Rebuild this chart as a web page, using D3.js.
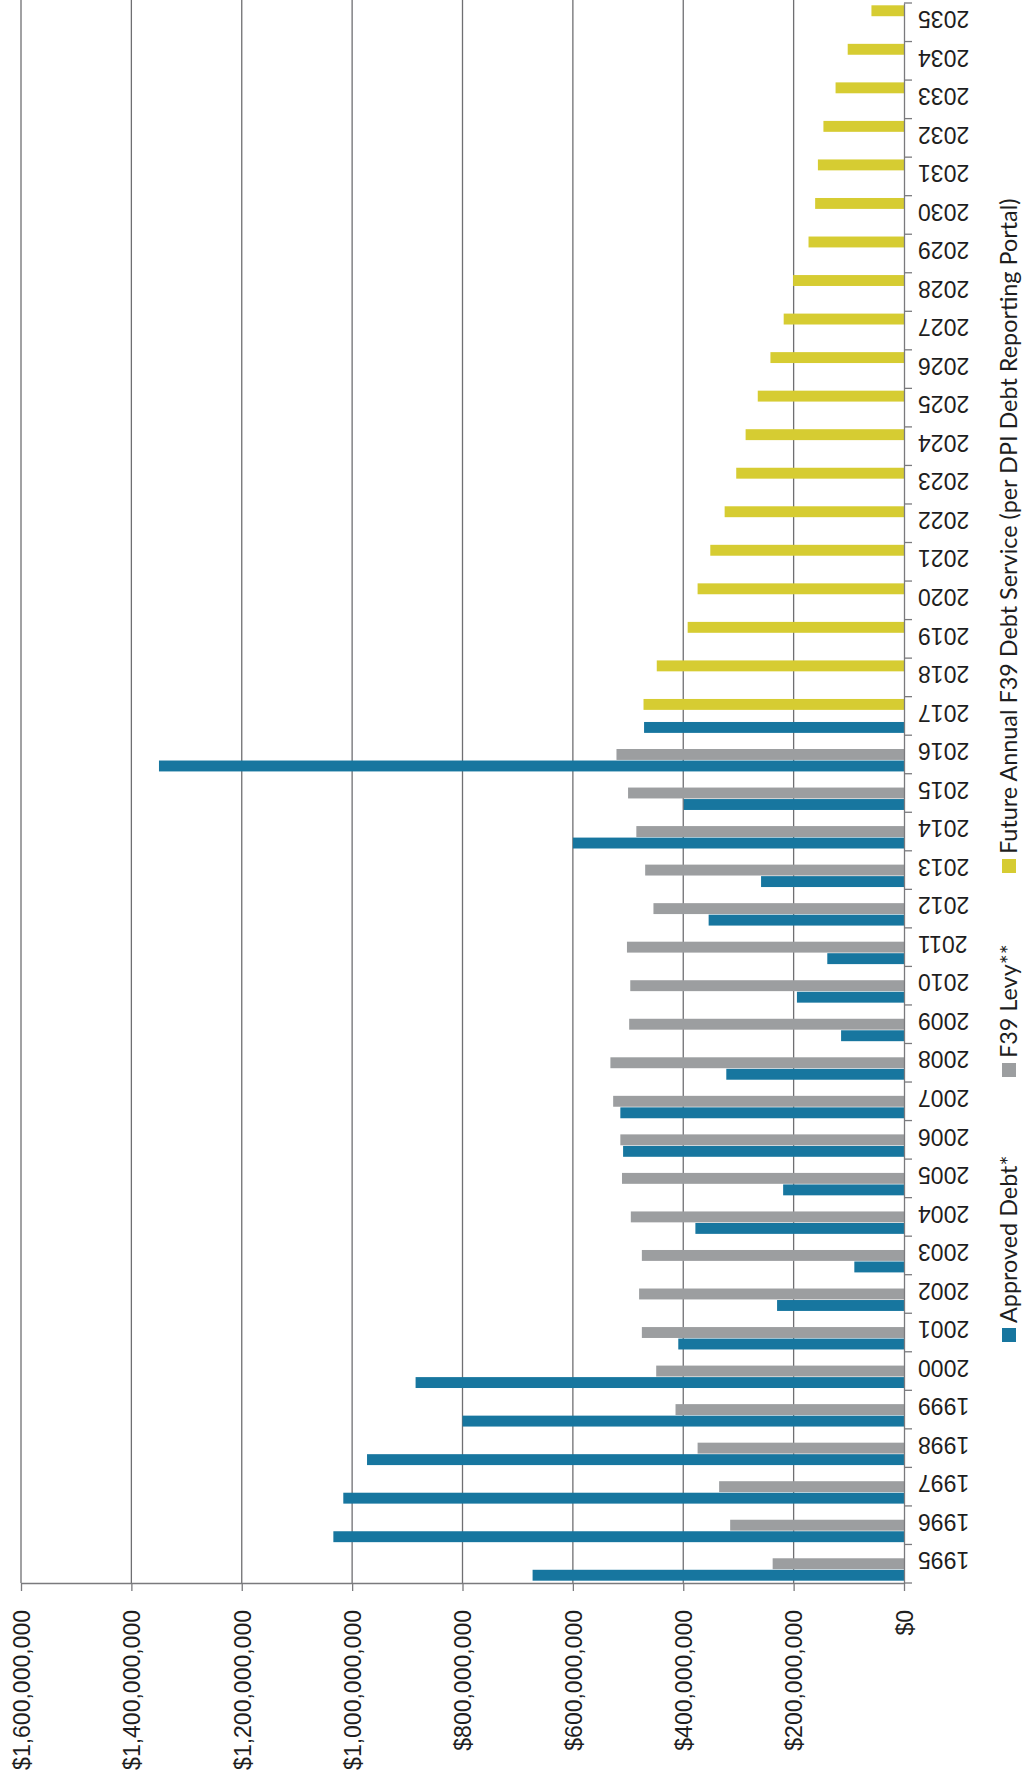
<!DOCTYPE html>
<html>
<head>
<meta charset="utf-8">
<script src="https://cdn.jsdelivr.net/npm/d3@7"></script>
<style>
  html, body { margin: 0; padding: 0; background: #fff; }
  svg { display: block; font-family: Lato, "Open Sans", sans-serif; }
</style>
</head>
<body>
<svg id="chart" width="1023" height="1790"></svg>
<script>
// Years on the category axis
const years = d3.range(1995, 2036);

// Values in millions of dollars
const approvedYears = d3.range(1995, 2018);
const approvedDebt = [673, 1034, 1016, 973, 800, 885, 409, 230, 90, 378, 219, 509,
                      514, 322, 114, 194, 139, 354, 259, 600, 399, 1350, 471];

const levyYears = d3.range(1995, 2017);
const f39Levy = [238, 315, 335, 374, 414, 449, 475, 480, 475, 495, 511, 514,
                 527, 532, 498, 496, 502, 454, 469, 485, 500, 521];

const futureYears = d3.range(2017, 2036);
const futureService = [472, 448, 392, 374, 351, 325, 304, 287, 265, 242, 218, 201,
                       173, 161, 156, 146, 124, 102, 59];

const valueTicks = [0, 200, 400, 600, 800, 1000, 1200, 1400, 1600];

const seriesNames = ["Approved Debt*", "F39 Levy**",
                     "Future Annual F39 Debt Service (per DPI Debt Reporting Portal)"];
const seriesKeys = ["approved", "levy", "future"];
const seriesColors = { approved: "#17769f", levy: "#9c9ea0", future: "#d6cc32" };

const series = [
  { key: "approved", years: approvedYears, values: approvedDebt },
  { key: "levy", years: levyYears, values: f39Levy },
  { key: "future", years: futureYears, values: futureService }
];

const svg = d3.select("#chart");

// The chart is laid on its side: values run right-to-left, years bottom-to-top.
const plot = { left: 21, right: 904, top: 3, bottom: 1583 };

const x = d3.scaleLinear().domain([0, 1600]).range([plot.right, plot.left]);
const y = d3.scaleBand().domain(years.slice().reverse()).range([plot.top, plot.bottom]);

const step = y.step();
const gap = step * 0.104;
const sub = d3.scaleBand().domain(["future", "levy", "approved"])
  .range([gap / 2, step - gap / 2]);

const fmtMoney = d => "$" + d3.format(",")(d * 1e6);

// Gridlines
svg.append("g").selectAll("line")
  .data(valueTicks.filter(d => d > 0))
  .join("line")
  .attr("x1", d => x(d)).attr("x2", d => x(d))
  .attr("y1", 0).attr("y2", plot.bottom)
  .attr("stroke", "#6f6f72").attr("stroke-width", 1.3);

// Bars
const bars = svg.append("g");
series.forEach(s => {
  bars.append("g").selectAll("rect")
    .data(s.years.map((yr, i) => ({ yr, v: s.values[i] })))
    .join("rect")
    .attr("x", d => x(d.v))
    .attr("width", d => x(0) - x(d.v))
    .attr("y", d => y(d.yr) + sub(s.key) + 0.3)
    .attr("height", sub.bandwidth() - 0.6)
    .attr("fill", seriesColors[s.key]);
});

// Value axis along the bottom
const xAxis = svg.append("g")
  .attr("transform", `translate(0,${plot.bottom})`)
  .call(d3.axisBottom(x).tickValues(valueTicks).tickSize(8).tickSizeOuter(0).tickFormat(fmtMoney));
xAxis.select(".domain").attr("stroke", "#7a7a7d").attr("stroke-width", 1.3);
xAxis.selectAll(".tick line").attr("stroke", "#7a7a7d").attr("stroke-width", 1.3);
xAxis.selectAll(".tick text")
  .attr("transform", "rotate(-90)")
  .attr("x", -27).attr("y", 0).attr("dy", "0.36em")
  .attr("text-anchor", "end")
  .attr("fill", "#1e1e1e")
  .style("font-size", "23px");

// Category axis on the right, at $0
const yAxis = svg.append("g")
  .attr("transform", `translate(${plot.right},0)`)
  .call(d3.axisRight(y).tickSize(0).tickSizeOuter(0));
yAxis.select(".domain").attr("stroke", "#7a7a7d").attr("stroke-width", 1.3);
yAxis.selectAll(".tick text")
  .attr("x", 0)
  .attr("transform", "translate(14,-3) rotate(180)")
  .attr("dy", "0.36em")
  .attr("text-anchor", "end")
  .attr("fill", "#1e1e1e")
  .style("font-size", "23px");

// Tick marks between categories
yAxis.append("g").selectAll("line")
  .data(years.concat([years[0] - 1]))
  .join("line")
  .attr("x1", 0).attr("x2", 8)
  .attr("y1", d => d < years[0] ? plot.bottom : y(d))
  .attr("y2", d => d < years[0] ? plot.bottom : y(d))
  .attr("stroke", "#7a7a7d").attr("stroke-width", 1.3);

// Legend, running up the right edge
const legendOffsets = { approved: 0, levy: 265, future: 469 };
const legend = svg.append("g").attr("transform", "translate(1017,1342) rotate(-90)");
seriesKeys.forEach((k, i) => {
  const item = legend.append("g").attr("transform", `translate(${legendOffsets[k]},0)`);
  item.append("rect")
    .attr("x", 0).attr("y", -15).attr("width", 14).attr("height", 14)
    .attr("fill", seriesColors[k]);
  item.append("text")
    .attr("x", 19).attr("y", 0)
    .attr("fill", "#1e1e1e")
    .style("font-size", "23.4px")
    .text(seriesNames[i]);
});
</script>
</body>
</html>
